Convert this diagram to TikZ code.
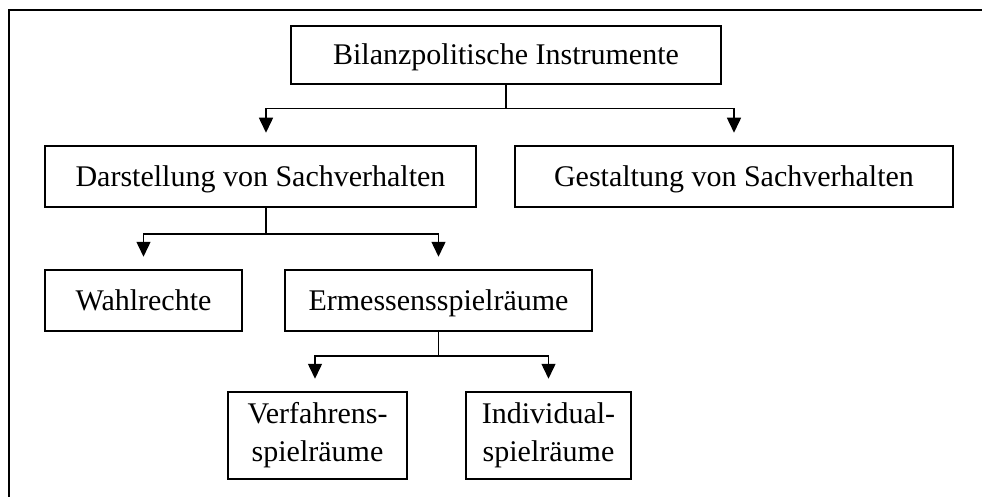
\documentclass[tikz,border=0pt]{standalone}
\usepackage{fontspec}
\setmainfont{Liberation Serif}
\usetikzlibrary{arrows.meta}
\tikzstyle{block} = [rectangle, draw, line width=1.5pt, inner sep=0pt,
text centered, align=center, text height=23pt, text depth=3pt, font=\fontsize{30}{37}\selectfont]
\tikzstyle{block2} = [rectangle, draw, line width=1.5pt, inner sep=0pt,
text centered, align=center, font=\fontsize{30}{38}\selectfont]
\tikzstyle{line} = [draw, line width=1.5pt, -{Triangle[length=15pt,width=14pt]}, shorten >=12.5pt]
\tikzstyle{frame} = [draw, line width=1.5pt]

\begin{document}
\begin{tikzpicture}[x=1pt, y=1pt]
	\useasboundingbox (0,0) rectangle (982,-497);
	\path [frame] (9,-497) -- (9,-10) -- (982,-10);
	
	% Place nodes
	\node [block, minimum width=430, minimum height=58] at (506,-55)     (bil) {Bilanzpolitische Instrumente};
	\node [block, minimum width=431, minimum height=61] at (260.5,-176.5) (dar) {Darstellung von Sachverhalten};
	\node [block, minimum width=438, minimum height=61] at (734,-176.5)   (ges) {Gestaltung von Sachverhalten};
	\node [block, minimum width=197, minimum height=61] at (143.5,-300.5) (wah) {Wahlrechte};
	\node [block, minimum width=307, minimum height=61] at (438.5,-300.5) (erm) {Ermessensspielräume};
	\node [block2, minimum width=179, minimum height=87] at (317.5,-435.5) (ver) {Verfahrens-\\spielräume};
	\node [block2, minimum width=165, minimum height=87] at (548.5,-435.5) (ind) {Individual-\\spielräume};
	
	%Draw edges
	\path [line] (bil.south) -- ++(0,-24) -| ([xshift=5.5]dar.north);
	\path [line] (bil.south) -- ++(0,-24) -| (ges.north);
	\path [line] ([xshift=5.5]dar.south) -- ++(0,-26) -| (wah.north);
	\path [line] ([xshift=5.5]dar.south) -- ++(0,-26) -| (erm.north);
	\path [line] (erm.south) -- ++(0,-24) -| ([xshift=-2.5]ver.north);
	\path [line] (erm.south) -- ++(0,-24) -| (ind.north);
	
\end{tikzpicture}
\end{document}
